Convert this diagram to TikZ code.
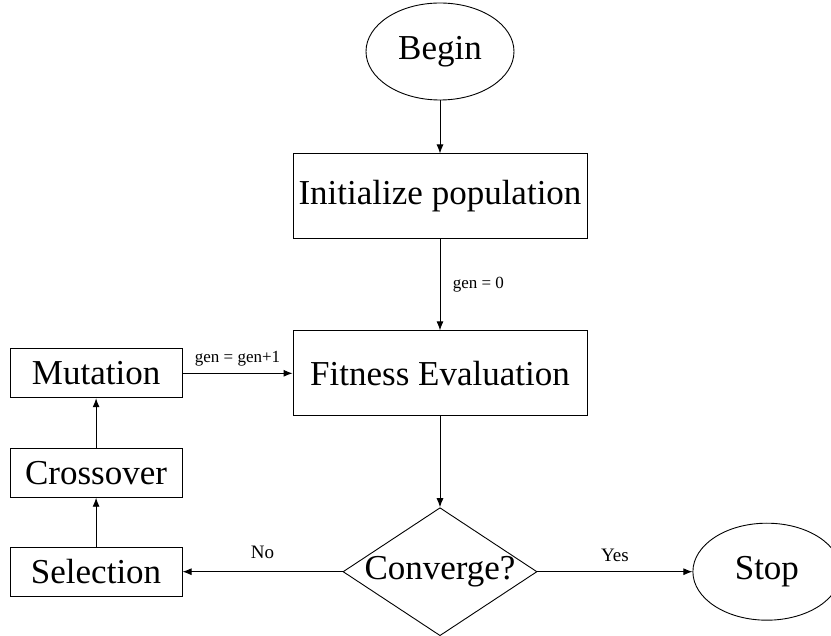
\documentclass[tikz,border=0pt]{standalone}
\usepackage{fontspec}
\setmainfont{Liberation Serif}
\usetikzlibrary{shapes.geometric,arrows.meta,positioning}

\begin{document}
\begin{tikzpicture}[x=1pt,y=1pt,font=\fontsize{35}{40}\selectfont,
  term/.style={draw,ellipse,line width=0.9pt,inner sep=0pt,minimum width=148pt,minimum height=97pt},
  proc/.style={draw,line width=0.9pt,inner sep=0pt,minimum width=294pt,minimum height=85pt},
  side/.style={draw,line width=0.9pt,inner sep=0pt,minimum width=172pt,minimum height=49pt},
  decide/.style={draw,diamond,line width=0.9pt,inner sep=0pt,minimum width=194pt,minimum height=128pt},
  arr/.style={-{Latex[length=9pt,width=7pt]},line width=0.9pt},
  lbl/.style={font=\fontsize{17}{20}\selectfont},
  yn/.style={font=\fontsize{19}{22}\selectfont}]
\useasboundingbox (0,0) rectangle (831,-636);
\node[term] (begin) at (440,-51.5) {Begin};
\node[proc,below=53pt of begin] (init) {Initialize population};
\node[proc,below=91pt of init] (fit) {Fitness Evaluation};
\node[decide,below=91pt of fit] (conv) {\makebox[0pt]{Converge?}};
\node[term,right=155pt of conv] (stop) {Stop};
\node[side,left=160pt of conv] (sel) {Selection};
\node[side,above=49pt of sel] (cross) {Crossover};
\node[side,left=110pt of fit] (mut) {Mutation};
\draw[arr] (begin) -- (init);
\draw[arr] (init) -- node[lbl,right=9pt] {gen = 0} (fit);
\draw[arr] (fit) -- (conv);
\draw[arr] (conv) -- node[yn,above=9pt] {No} (sel);
\draw[arr] (conv) -- node[yn,above=6pt] {Yes} (stop);
\draw[arr] (sel) -- (cross);
\draw[arr] (cross) -- (mut);
\draw[arr] (mut) -- node[lbl,above=3pt] {gen = gen+1} (fit);
\end{tikzpicture}
\end{document}
